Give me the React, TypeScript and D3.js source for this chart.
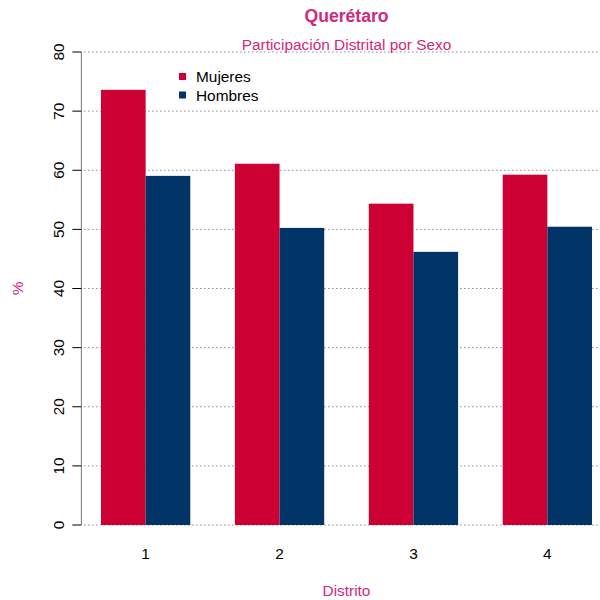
import React from "react";
import * as d3 from "d3";

const distritos = ["1", "2", "3", "4"];
const mujeres = [73.6, 61.1, 54.35, 59.25];
const hombres = [59.05, 50.25, 46.2, 50.45];
const yTicks = [0, 10, 20, 30, 40, 50, 60, 70, 80];
const seriesNames = ["Mujeres", "Hombres"];
const seriesColors = ["#CC0033", "#003366"];
const titleText = "Querétaro";
const subtitleText = "Participación Distrital por Sexo";
const xLabel = "Distrito";
const yLabel = "%";

const W = 600;
const H = 600;
const pink = "#D1287D";
const font = "'Liberation Sans', Arial, Helvetica, sans-serif";
const fs = 15.4;

export default function App() {
  // bar units: group i occupies [1+3i, 3+3i]
  const x = d3.scaleLinear().domain([1, 12]).range([101, 592]);
  const y = d3.scaleLinear().domain([0, 80]).range([525, 52]);
  const axisX = x(0.56);
  const series = [mujeres, hombres];

  return (
    <svg width={W} height={H} style={{ position: "absolute", left: 0, top: 0, background: "#fff" }} fontFamily={font}>
      <rect x={0} y={0} width={W} height={H} fill="#fff" />
      {/* grid */}
      {yTicks.map((t) => (
        <line key={"g" + t} x1={axisX + 3} x2={W} y1={y(t)} y2={y(t)} stroke="#555" strokeWidth={1} strokeDasharray="1,3" />
      ))}
      {/* bars */}
      {distritos.map((d, i) =>
        series.map((s, j) => {
          const x0 = x(1 + 3 * i + j);
          const x1 = x(2 + 3 * i + j);
          return (
            <rect
              key={d + "-" + j}
              x={x0}
              y={y(s[i])}
              width={x1 - x0}
              height={y(0) - y(s[i])}
              fill={seriesColors[j]}
            />
          );
        })
      )}
      {/* y axis */}
      <line x1={axisX} x2={axisX} y1={y(0)} y2={y(80)} stroke="#777" strokeWidth={1} />
      {yTicks.map((t) => (
        <g key={"t" + t}>
          <line x1={axisX - 9} x2={axisX} y1={y(t)} y2={y(t)} stroke="#000" strokeWidth={1} />
          <text
            transform={`translate(${axisX - 23},${y(t)}) rotate(-90)`}
            textAnchor="middle"
            dominantBaseline="central"
            fontSize={fs}
            fill="#000"
          >
            {t}
          </text>
        </g>
      ))}
      {/* x tick labels */}
      {distritos.map((d, i) => (
        <text key={"xl" + d} x={x(2 + 3 * i)} y={558.5} textAnchor="middle" fontSize={fs} fill="#000">
          {d}
        </text>
      ))}
      {/* legend */}
      {seriesNames.map((n, j) => (
        <g key={n}>
          <rect x={179} y={73 + j * 18.5} width={7} height={7} fill={seriesColors[j]} />
          <text x={196} y={82 + j * 18.5} fontSize={fs} fill="#000">
            {n}
          </text>
        </g>
      ))}
      {/* titles */}
      <text x={x(6.5)} y={22} textAnchor="middle" fontSize={17.6} fontWeight="bold" fill={pink}>
        {titleText}
      </text>
      <text x={x(6.5)} y={49.5} textAnchor="middle" fontSize={fs} fill={pink}>
        {subtitleText}
      </text>
      <text x={x(6.5)} y={595.5} textAnchor="middle" fontSize={fs} fill={pink}>
        {xLabel}
      </text>
      <text transform={`translate(17,${y(40)}) rotate(-90)`} textAnchor="middle" dominantBaseline="central" fontSize={fs} fill={pink}>
        {yLabel}
      </text>
    </svg>
  );
}
